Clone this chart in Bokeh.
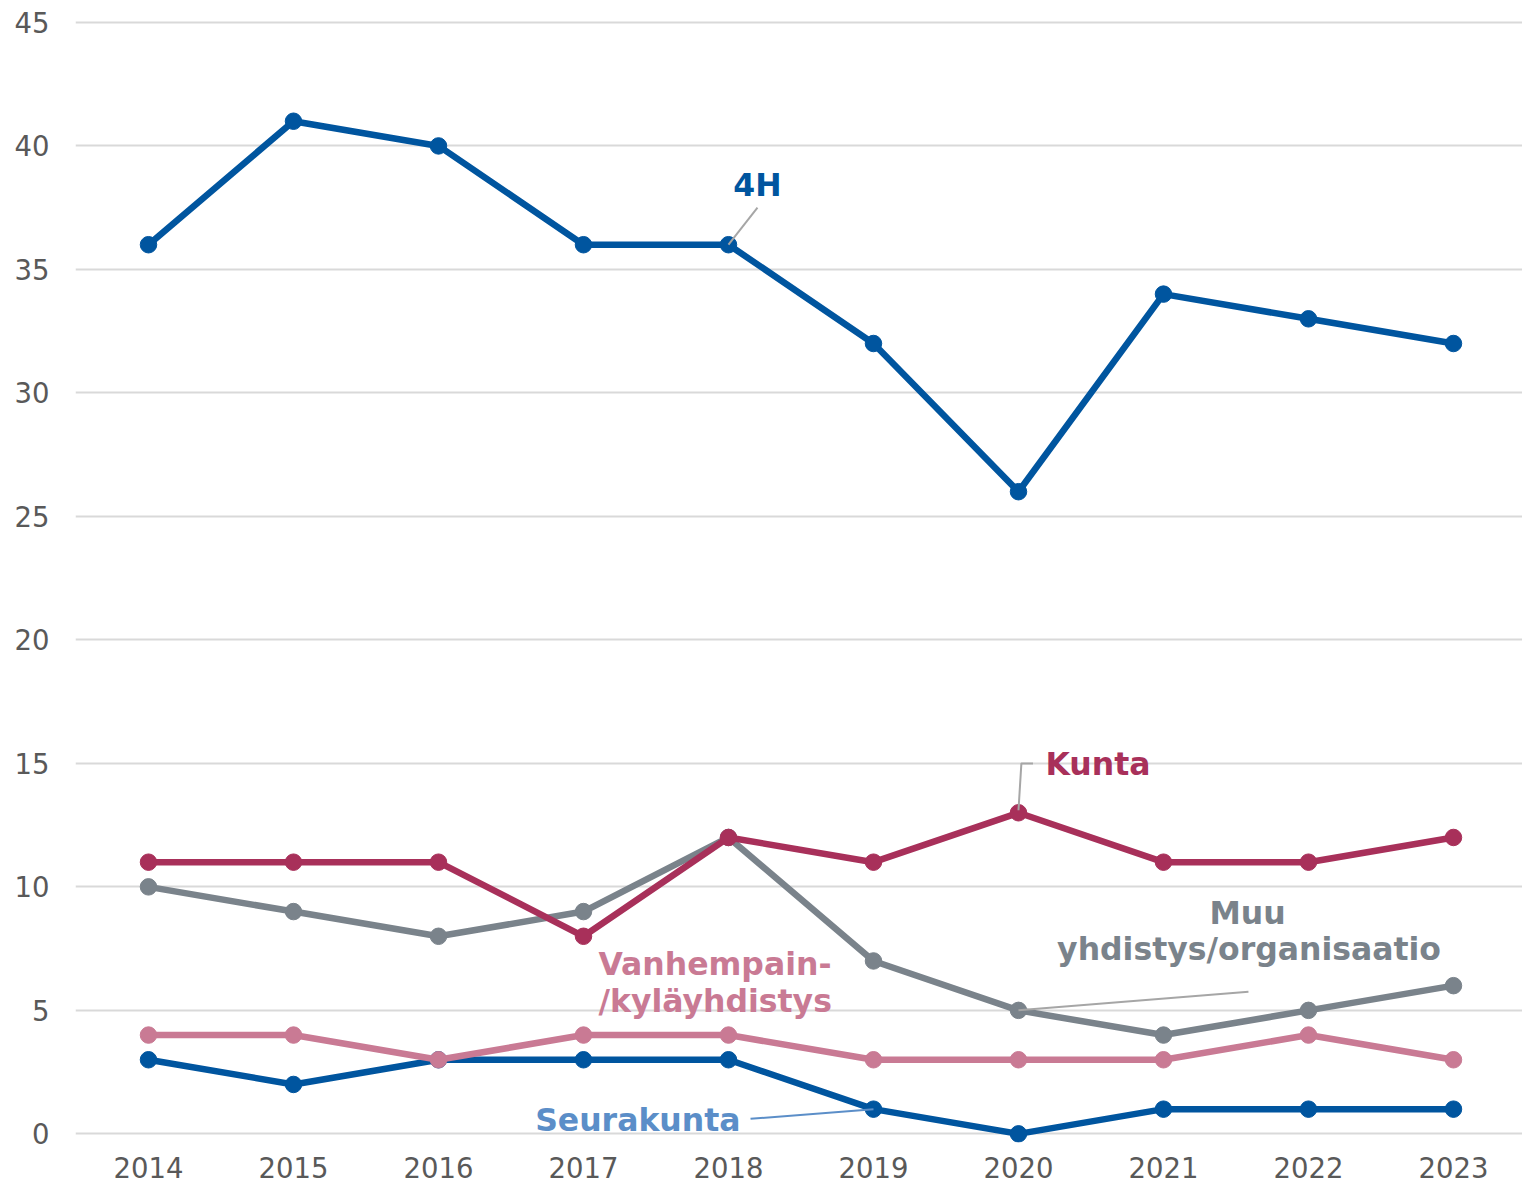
from bokeh.plotting import figure
from bokeh.models import Range1d, FixedTicker, ColumnDataSource
from bokeh.core.properties import value
from bokeh.embed import file_html
from bokeh.resources import INLINE

years = [2014, 2015, 2016, 2017, 2018, 2019, 2020, 2021, 2022, 2023]
h4 = [36, 41, 40, 36, 36, 32, 26, 34, 33, 32]
kunta = [11, 11, 11, 8, 12, 11, 13, 11, 11, 12]
muu = [10, 9, 8, 9, 12, 7, 5, 4, 5, 6]
vanhempain = [4, 4, 3, 4, 4, 3, 3, 3, 4, 3]
seurakunta = [3, 2, 3, 3, 3, 1, 0, 1, 1, 1]
y_ticks = [0, 5, 10, 15, 20, 25, 30, 35, 40, 45]

C_4H = "#00559f"
C_KUNTA = "#a8305a"
C_MUU = "#7a838b"
C_VANH = "#c97a94"
C_SEUR = "#00559f"
C_SEUR_LABEL = "#5b8ec8"
C_LEADER = "#a6a6a6"

FONT = "DejaVu Sans"

p = figure(width=1522, height=1183, output_backend="svg", toolbar_location=None,
           x_range=Range1d(2013.4966, 2023.476), y_range=Range1d(-0.35, 45.2),
           min_border_left=75, min_border_right=0, min_border_top=17, min_border_bottom=41)
p.outline_line_color = None
p.background_fill_color = "white"
p.border_fill_color = "white"

p.xgrid.grid_line_color = None
p.ygrid.grid_line_color = "#d9d9d9"
p.ygrid.grid_line_width = 2
p.yaxis.ticker = FixedTicker(ticks=y_ticks)
p.xaxis.ticker = FixedTicker(ticks=years)
for ax in (p.xaxis, p.yaxis):
    ax.axis_line_color = None
    ax.major_tick_line_color = None
    ax.minor_tick_line_color = None
    ax.major_tick_out = 0
    ax.major_tick_in = 0
    ax.major_label_text_font = FONT
    ax.major_label_text_font_size = "27.5px"
    ax.major_label_text_color = "#595959"
p.yaxis.major_label_standoff = 26
p.xaxis.major_label_standoff = 14

series = [(seurakunta, C_SEUR), (vanhempain, C_VANH), (muu, C_MUU), (kunta, C_KUNTA), (h4, C_4H)]
for vals, col in series:
    src = ColumnDataSource(dict(x=years, y=vals))
    p.line("x", "y", source=src, line_color=col, line_width=6.5, line_join="round")
    p.scatter("x", "y", source=src, size=16.5, fill_color=col, line_color=col)

# leader lines
i18 = years.index(2018)
i19 = years.index(2019)
i20 = years.index(2020)
p.line([years[i18], 2018.2], [h4[i18], 37.5], line_color=C_LEADER, line_width=2)
p.line([years[i20], 2020.02, 2020.1], [kunta[i20] + 0.1, 15.0, 15.0], line_color=C_LEADER, line_width=2)
p.line([years[i20], 2021.586], [muu[i20], 5.75], line_color=C_LEADER, line_width=2)
p.line([2018.152, years[i19]], [0.61, seurakunta[i19]], line_color=C_SEUR_LABEL, line_width=2)

def label(x, y, txt, col, align="center"):
    p.text(x=[x], y=[y], text=[txt], text_color=col, text_font=value(FONT),
           text_font_style="bold", text_font_size="31.5px", text_align=align,
           text_baseline="middle")

label(2018.2, 38.4, "4H", C_4H)
label(2020.186, 14.99, "Kunta", C_KUNTA, "left")
label(2021.58, 8.95, "Muu", C_MUU)
label(2021.59, 7.49, "yhdistys/organisaatio", C_MUU)
label(2017.103, 6.89, "Vanhempain-", C_VANH, "left")
label(2017.103, 5.39, "/kyläyhdistys", C_VANH, "left")
label(2018.083, 0.567, "Seurakunta", C_SEUR_LABEL, "right")

open("out.html", "w").write(file_html(p, INLINE))
